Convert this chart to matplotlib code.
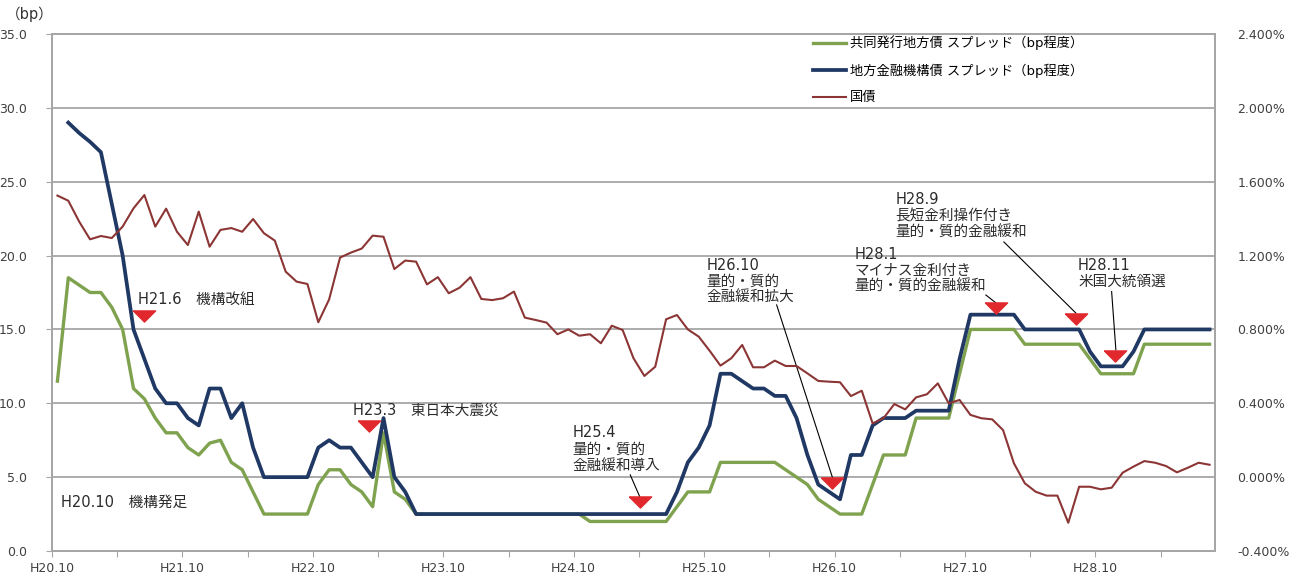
import numpy as np
import matplotlib.pyplot as plt
from matplotlib.ticker import FuncFormatter

plt.rcParams['font.family'] = ['DejaVu Sans', 'Noto Sans CJK JP']

# monthly, H20.10 .. H29.8
tick_labels = ["H20.10", "H21.10", "H22.10", "H23.10", "H24.10",
               "H25.10", "H26.10", "H27.10", "H28.10"]

# 共同発行地方債 スプレッド (bp)
kyodo = [11.5, 18.5, 18.0, 17.5, 17.5, 16.5, 15.0, 11.0, 10.3, 9.0,
         8.0, 8.0, 7.0, 6.5, 7.3, 7.5, 6.0, 5.5, 4.0, 2.5,
         2.5, 2.5, 2.5, 2.5, 4.5, 5.5, 5.5, 4.5, 4.0, 3.0,
         8.0, 4.0, 3.5] + [2.5] * 16 + [2.0] * 8 + \
        [3.0, 4.0, 4.0, 4.0] + [6.0] * 6 + \
        [5.5, 5.0, 4.5, 3.5, 3.0, 2.5, 2.5, 2.5,
         4.5, 6.5, 6.5, 6.5, 9.0, 9.0, 9.0, 9.0, 12.0] + [15.0] * 5 + \
        [14.0] * 6 + [13.0] + [12.0] * 4 + [14.0] * 7

# 地方金融機構債 スプレッド (bp)
kikou = [np.nan, 29.0, 28.3, 27.7, 27.0, 23.5, 20.0, 15.0, 13.0, 11.0,
         10.0, 10.0, 9.0, 8.5, 11.0, 11.0, 9.0, 10.0, 7.0, 5.0,
         5.0, 5.0, 5.0, 5.0, 7.0, 7.5, 7.0, 7.0, 6.0, 5.0,
         9.0, 5.0, 4.0] + [2.5] * 24 + \
        [4.0, 6.0, 7.0, 8.5, 12.0, 12.0, 11.5, 11.0, 11.0, 10.5,
         10.5, 9.0, 6.5, 4.5, 4.0, 3.5, 6.5, 6.5, 8.5, 9.0,
         9.0, 9.0, 9.5, 9.5, 9.5, 9.5, 13.0] + [16.0] * 5 + \
        [15.0] * 6 + [13.5] + [12.5] * 3 + [13.5] + [15.0] * 7

# 国債 (%)
kokusai = [1.525, 1.497, 1.384, 1.288, 1.306, 1.295, 1.357, 1.456, 1.528, 1.357,
           1.454, 1.329, 1.257, 1.438, 1.248, 1.339, 1.349, 1.329, 1.398, 1.321,
           1.281, 1.113, 1.059, 1.046, 0.839, 0.963, 1.189, 1.216, 1.238, 1.308,
           1.302, 1.127, 1.173, 1.167, 1.044, 1.083, 0.996, 1.026, 1.083, 0.965,
           0.959, 0.969, 1.005, 0.864, 0.851, 0.837, 0.774, 0.800, 0.766, 0.774,
           0.725, 0.820, 0.797, 0.644, 0.548, 0.598, 0.855, 0.878, 0.800, 0.761,
           0.685, 0.604, 0.644, 0.716, 0.595, 0.595, 0.631, 0.602, 0.602, 0.562,
           0.521, 0.517, 0.514, 0.439, 0.468, 0.291, 0.319, 0.396, 0.367, 0.432,
           0.449, 0.508, 0.400, 0.418, 0.337, 0.319, 0.313, 0.255, 0.075, -0.033,
           -0.079, -0.100, -0.100, -0.247, -0.052, -0.052, -0.066, -0.057, 0.024, 0.057,
           0.087, 0.078, 0.060, 0.026, 0.051, 0.078, 0.067]

# (text, text pos, arrow line or None, marker pos or None) in month/bp coords
events = [
    ("H20.10\u3000機構発足", (0.3, 3.3), None, None),
    ("H21.6\u3000機構改組", (7.4, 17.0), None, (7.96, 15.94)),
    ("H23.3\u3000東日本大震災", (27.2, 9.55), None, (28.66, 8.46)),
    ("H25.4\n量的・質的\n金融緩和導入", (47.4, 8.5), ((52.7, 5.15), (53.56, 3.7)), (53.56, 3.32)),
    ("H26.10\n量的・質的\n金融緩和拡大", (59.7, 19.85), ((66.17, 16.66), (71.32, 4.94)), (71.26, 4.6)),
    ("H28.1\nマイナス金利付き\n量的・質的金融緩和", (73.3, 20.6), ((85.42, 17.33), (86.34, 16.8)), (86.34, 16.42)),
    ("H28.9\n長短金利操作付き\n量的・質的金融緩和", (77.1, 24.3), ((87.08, 20.92), (93.7, 16.11)), (93.7, 15.71)),
    ("H28.11\n米国大統領選", (93.9, 19.85), ((96.99, 17.56), (97.38, 13.61)), (97.29, 13.2)),
]

x = np.arange(len(kokusai))
grid_c = '#a6a6a6'
txt_c = '#404040'

fig = plt.figure(figsize=(12.9, 5.74), dpi=100)
ax = fig.add_axes([52/1290, 1 - 551/574, (1215-52)/1290, (551-34)/574])
ax2 = ax.twinx()

l1, = ax.plot(x, kyodo, color='#7fa24f', lw=2.4, label='共同発行地方債 スプレッド（bp程度）', zorder=3)
l2, = ax.plot(x, kikou, color='#203864', lw=2.7, label='地方金融機構債 スプレッド（bp程度）', zorder=4)
l3, = ax2.plot(x, kokusai, color='#8c3535', lw=1.5, label='国債')

ax.set_xlim(-0.5, len(x) - 0.5)
ax.set_ylim(0, 35)
ax.set_yticks(np.arange(0, 35.1, 5))
ax.yaxis.set_major_formatter(FuncFormatter(lambda v, p: f"{v:.1f}"))
ax2.set_ylim(-0.4, 2.4)
ax2.set_yticks(np.arange(-0.4, 2.41, 0.4))
ax2.yaxis.set_major_formatter(FuncFormatter(lambda v, p: f"{v:.3f}%"))

ax.set_xticks(np.arange(-0.5, len(x) - 1, 6))
ax.set_xticklabels([tick_labels[i // 2] if i % 2 == 0 else "" for i in range(len(ax.get_xticks()))])

ax.grid(axis='y', color=grid_c, lw=1.3)
ax.set_axisbelow(True)
for a in (ax, ax2):
    for s in a.spines.values():
        s.set_color(grid_c)
        s.set_linewidth(1.3)
ax.tick_params(axis='x', length=4, color=grid_c, labelsize=9, labelcolor=txt_c, pad=4)
ax.tick_params(axis='y', length=4, color=grid_c, labelsize=9, labelcolor=txt_c, pad=14)
ax2.tick_params(axis='y', length=0, labelsize=9, labelcolor=txt_c, pad=16)

fig.text(6/1290, 1 - 14/574, "（bp）", fontsize=10.5, color='#333333', va='center')

tri = [(-1, 0.5), (1, 0.5), (0, -0.5), (-1, 0.5)]
for text, (tx, ty), line, mk in events:
    va = 'center' if '\n' not in text else 'top'
    ax.text(tx, ty, text, fontsize=10.5, color='#2b2b2b', va=va, ha='left', linespacing=1.1, zorder=6)
    if line is not None:
        (x0, y0), (x1, y1) = line
        ax.plot([x0, x1], [y0, y1], color='black', lw=0.8, zorder=6)
    if mk is not None:
        ax.plot(mk[0], mk[1], marker=tri, markersize=16, color='#e0282d', ls='none', zorder=7)

ax.legend(handles=[l1, l2, l3], loc='upper left', bbox_to_anchor=(0.654, 0.997),
          frameon=False, fontsize=9.5, handlelength=2.5, handletextpad=0.3,
          labelspacing=1.0, borderpad=0, borderaxespad=0)

fig.savefig('out.png', dpi=100)
